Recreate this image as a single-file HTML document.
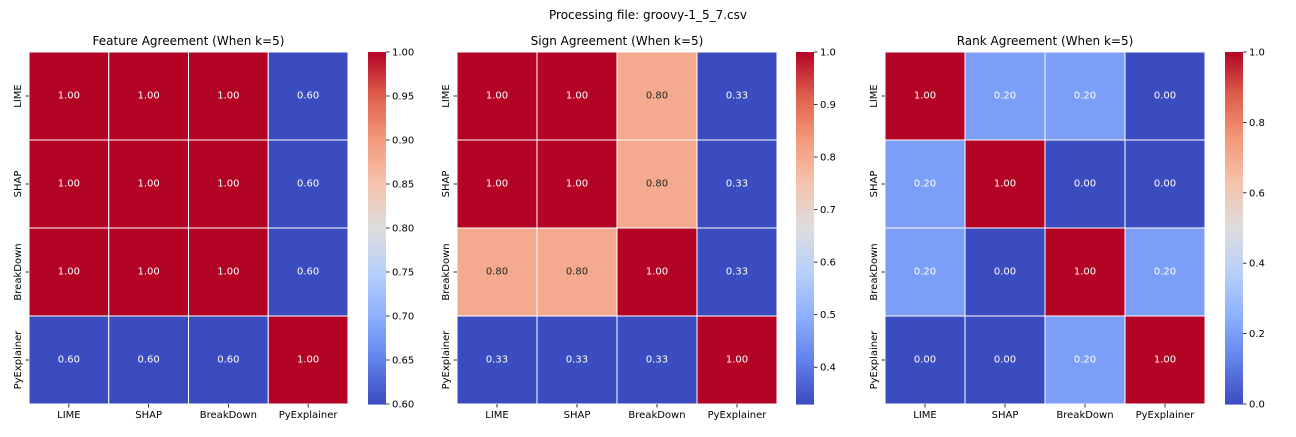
<!DOCTYPE html>
<html><head><meta charset="utf-8"><style>
body{margin:0;background:#fff;font-family:"Liberation Sans","DejaVu Sans",sans-serif;}
svg text{font-family:"DejaVu Sans","Liberation Sans",sans-serif;}
</style></head><body>
<svg id="fig" width="1296" height="432">
<text x="648" y="19" font-size="12" text-anchor="middle" fill="#000">Processing file: groovy-1_5_7.csv</text>
</svg>
<script>
const labels = ["LIME","SHAP","BreakDown","PyExplainer"];
const featureValues = [[1,1,1,0.6],[1,1,1,0.6],[1,1,1,0.6],[0.6,0.6,0.6,1]];
const signValues = [[1,1,0.8,0.33],[1,1,0.8,0.33],[0.8,0.8,1,0.33],[0.33,0.33,0.33,1]];
const rankValues = [[1,0.2,0.2,0],[0.2,1,0,0],[0.2,0,1,0.2],[0,0,0.2,1]];
const titles = ["Feature Agreement (When k=5)","Sign Agreement (When k=5)","Rank Agreement (When k=5)"];
const featureTicks = [0.60,0.65,0.70,0.75,0.80,0.85,0.90,0.95,1.00];
const signTicks = [0.4,0.5,0.6,0.7,0.8,0.9,1.0];
const rankTicks = [0.0,0.2,0.4,0.6,0.8,1.0];

const stops=[[59,76,192],[98,130,234],[141,176,254],[184,208,249],[221,221,221],[245,196,173],[244,154,123],[222,96,76],[180,4,38]];
function cmap(t){t=Math.max(0,Math.min(1,t));const p=t*8;const i=Math.min(7,Math.floor(p));const f=p-i;
 const a=stops[i],b=stops[i+1];return [0,1,2].map(k=>Math.round(a[k]+(b[k]-a[k])*f));}
const NS="http://www.w3.org/2000/svg";
const svg=document.getElementById('fig');
function el(tag,attrs,parent){const e=document.createElementNS(NS,tag);for(const k in attrs)e.setAttribute(k,attrs[k]);(parent||svg).appendChild(e);return e;}

const panels=[
 {vals:featureValues,ticks:featureTicks,dec:2,x0:29,x1:348,cb:368,name:'feature'},
 {vals:signValues,ticks:signTicks,dec:1,x0:457,x1:777,cb:796,name:'sign'},
 {vals:rankValues,ticks:rankTicks,dec:1,x0:885,x1:1205,cb:1225,name:'rank'}];
const y0=52,y1=404;
panels.forEach((p,pi)=>{
 const g=el('g',{});
 
 
 const flat=p.vals.flat();const vmin=Math.min(...flat),vmax=Math.max(...flat);
 const norm=v=>(v-vmin)/(vmax-vmin);
 const cw=(p.x1-p.x0)/4,ch=(y1-y0)/4;
 const t=el('text',{x:(p.x0+p.x1)/2,y:45,'font-size':12,'text-anchor':'middle'},g);t.textContent=titles[pi];
 
 
 p.vals.forEach((row,r)=>row.forEach((v,c)=>{
  const col=cmap(norm(v));
  const rc=el('rect',{x:p.x0+c*cw,y:y0+r*ch,width:cw,height:ch,fill:`rgb(${col})`,stroke:'#fff','stroke-width':1},g);
  
  
  const lum=(0.2126*col[0]+0.7152*col[1]+0.0722*col[2])/255;
  const tx=el('text',{x:p.x0+(c+0.5)*cw,y:y0+(r+0.5)*ch+2.5,'font-size':10,'text-anchor':'middle',fill:lum>0.66?'#262626':'#fff'},g);
  tx.textContent=v.toFixed(2);
  
  
 }));
 labels.forEach((l,i)=>{
  const cx=p.x0+(i+0.5)*cw;
  el('line',{x1:cx,y1:y1,x2:cx,y2:y1+3.5,stroke:'#000','stroke-width':0.8},g);
  const xt=el('text',{x:cx,y:y1+14,'font-size':10,'text-anchor':'middle'},g);xt.textContent=l;
  
  
  const cy=y0+(i+0.5)*ch;
  el('line',{x1:p.x0-3.5,y1:cy,x2:p.x0,y2:cy,stroke:'#000','stroke-width':0.8},g);
  const yt=el('text',{x:0,y:0,'font-size':10,'text-anchor':'middle',transform:`translate(${p.x0-8},${cy}) rotate(-90)`},g);yt.textContent=l;
  
  
 });
 const cb=el('g',{});
 
 
 const n=100,h=(y1-y0)/n;
 for(let i=0;i<n;i++){const col=cmap(1-(i+0.5)/n);el('rect',{x:p.cb,y:y0+i*h,width:18,height:h+0.6,fill:`rgb(${col})`},cb);}
 p.ticks.forEach(tv=>{
  const ty=y1-(tv-vmin)/(vmax-vmin)*(y1-y0);
  el('line',{x1:p.cb+18,y1:ty,x2:p.cb+21.5,y2:ty,stroke:'#000','stroke-width':0.8},cb);
  const tt=el('text',{x:p.cb+24,y:ty+3.5,'font-size':10},cb);tt.textContent=tv.toFixed(p.dec);
  
  
 });
});
</script>
</body></html>
